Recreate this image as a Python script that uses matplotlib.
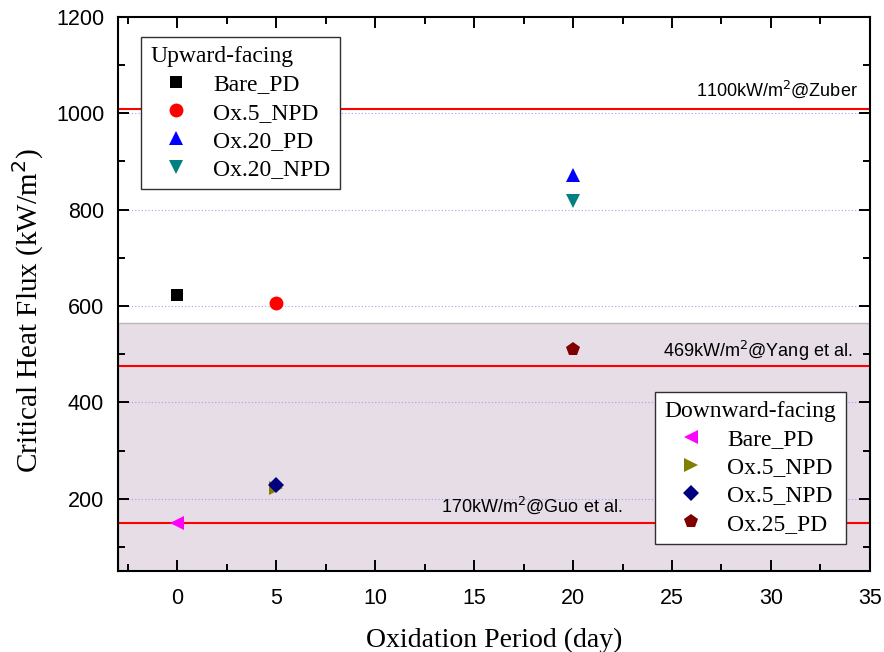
import matplotlib
matplotlib.use("Agg")
import matplotlib.pyplot as plt
from matplotlib.ticker import MultipleLocator

# Oxidation period (day) and CHF (kW/m^2)
up_labels = ["Bare_PD", "Ox.5_NPD", "Ox.20_PD", "Ox.20_NPD"]
up_days = [0, 5, 20, 20]
up_chf = [622, 606, 872, 818]
up_markers = ["s", "o", "^", "v"]
up_colors = ["#000000", "#ff0000", "#0000ff", "#008080"]

down_labels = ["Bare_PD", "Ox.5_NPD", "Ox.5_NPD", "Ox.25_PD"]
down_days = [0, 5, 5, 20]
down_chf = [150, 223, 229, 510]
down_markers = ["<", ">", "D", "p"]
down_colors = ["#ff00ff", "#808000", "#000080", "#800000"]

# Reference correlations
ref_chf = [1008, 475, 150]
ref_text = ["1100kW/m$^2$@Zuber", "469kW/m$^2$@Yang et al.", "170kW/m$^2$@Guo et al."]
shade_top = 565

serif = ["Liberation Serif", "DejaVu Serif"]
sans = ["Liberation Sans", "DejaVu Sans"]

fig = plt.figure(figsize=(8.84, 6.52), dpi=100)
ax = fig.add_axes([0.1335, 0.1242, 0.8505, 0.8498])
ax.set_xlim(-3, 35)
ax.set_ylim(50, 1200)

ax.axhspan(50, shade_top, facecolor="#e6dde6", edgecolor="#b8b8b8", linewidth=1.0, zorder=0)

for v in [200, 400, 600, 800, 1000]:
    ax.axhline(v, color="#a0a0ff", linestyle=(0, (1, 2)), linewidth=0.8, zorder=1)

for v in ref_chf:
    ax.axhline(v, color="#ff0000", linewidth=1.5, zorder=2)

ax.text(34.4, 1037, ref_text[0], ha="right", va="baseline", fontsize=13, family=sans)
ax.text(34.1, 494, ref_text[1], ha="right", va="baseline", fontsize=13, family=sans)
ax.text(17.9, 173, ref_text[2], ha="center", va="baseline", fontsize=13, family=sans)

up_handles = []
for x, y, m, c, lab in zip(up_days, up_chf, up_markers, up_colors, up_labels):
    ms = 9 if m == "s" else 10
    h, = ax.plot([x], [y], linestyle="none", marker=m, color=c, markersize=ms,
                 markeredgewidth=0, label=lab, zorder=4)
    up_handles.append(h)

down_handles = []
for x, y, m, c, lab in zip(down_days, down_chf, down_markers, down_colors, down_labels):
    ms = 8.5 if m == "D" else 10
    h, = ax.plot([x], [y], linestyle="none", marker=m, color=c, markersize=ms,
                 markeredgewidth=0, label=lab, zorder=4)
    down_handles.append(h)

leg_kw = dict(frameon=True, fancybox=False, edgecolor="#303030", framealpha=1,
              prop={"family": serif, "size": 17},
              title_fontproperties={"family": serif, "size": 17},
              handletextpad=0.45, labelspacing=0.28, borderpad=0.4,
              handlelength=2.2, borderaxespad=0.0, alignment="left")
leg1 = ax.legend(up_handles, up_labels, title="Upward-facing", loc="upper left",
                 bbox_to_anchor=(0.0306, 0.964), **leg_kw)
leg1.get_frame().set_linewidth(1.0)
ax.add_artist(leg1)
leg2 = ax.legend(down_handles, down_labels, title="Downward-facing", loc="lower right",
                 bbox_to_anchor=(0.968, 0.0487), **leg_kw)
leg2.get_frame().set_linewidth(1.0)

ax.xaxis.set_major_locator(MultipleLocator(5))
ax.xaxis.set_minor_locator(MultipleLocator(2.5))
ax.yaxis.set_major_locator(MultipleLocator(200))
ax.yaxis.set_minor_locator(MultipleLocator(100))
ax.tick_params(which="both", direction="in", top=True, right=True, width=1.4)
ax.tick_params(which="major", length=8)
ax.tick_params(which="minor", length=5)
ax.tick_params(axis="y", which="major", pad=10)
ax.tick_params(axis="x", which="major", pad=12)
for lab in ax.get_xticklabels() + ax.get_yticklabels():
    lab.set_family(sans)
    lab.set_fontsize(15.5)
for s in ax.spines.values():
    s.set_linewidth(1.5)

ax.set_xlabel("Oxidation Period (day)", fontsize=20, family=serif, labelpad=14)
ax.set_ylabel("Critical Heat Flux (kW/m$^2$)", fontsize=21, family=serif)
ax.yaxis.set_label_coords(-0.096, 0.47)

fig.savefig("out.png", dpi=100)
